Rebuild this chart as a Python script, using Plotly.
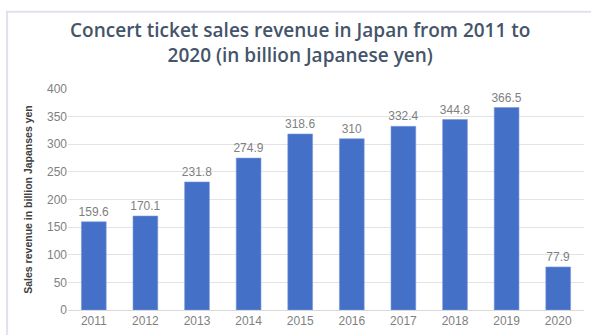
import plotly.graph_objects as go

years = ["2011", "2012", "2013", "2014", "2015", "2016", "2017", "2018", "2019", "2020"]
revenue = [159.6, 170.1, 231.8, 274.9, 318.6, 310, 332.4, 344.8, 366.5, 77.9]
labels = ["159.6", "170.1", "231.8", "274.9", "318.6", "310", "332.4", "344.8", "366.5", "77.9"]

fig = go.Figure()
fig.add_trace(go.Bar(
    x=years, y=revenue,
    text=labels, textposition="outside", constraintext="none",
    textfont=dict(family="Liberation Sans, Arial", size=12, color="#7f7f7f"),
    marker=dict(color="#4470c8", line=dict(color="#7a98da", width=0.6)),
    cliponaxis=False,
))

fig.update_layout(
    width=591, height=335,
    margin=dict(l=68, r=7, t=89, b=21),
    paper_bgcolor="white", plot_bgcolor="white",
    bargap=0.52,
    showlegend=False,
    title=dict(
        text="Concert ticket sales revenue in Japan from 2011 to<br>2020 (in billion Japanese yen)",
        x=0.508, xanchor="center", xref="container", y=0.89, yanchor="top",
        font=dict(family="Open Sans, Noto Sans", size=19, color="#44546a", weight=600),
    ),
    xaxis=dict(
        showgrid=False, showline=True, linecolor="#d9d9d9", ticks="",
        tickfont=dict(family="Liberation Sans, Arial", size=12, color="#7f7f7f"),
    ),
    yaxis=dict(
        range=[0, 400], dtick=50, showgrid=True, gridcolor="#e3e3e3", zeroline=False,
        ticks="", ticklen=0,
        tickfont=dict(family="Liberation Sans, Arial", size=12, color="#7f7f7f"),
        title=dict(text="<b>Sales revenue in billion Japanses yen</b>", standoff=12,
                   font=dict(family="Liberation Sans, Arial", size=10.5, color="#404040")),
    ),
    shapes=[dict(type="rect", xref="paper", yref="paper",
                 x0=-0.118, x1=1.2, y0=-0.3, y1=1.35,
                 line=dict(color="#dfe2ec", width=2), layer="below")],
)

fig.write_html("out.html")
